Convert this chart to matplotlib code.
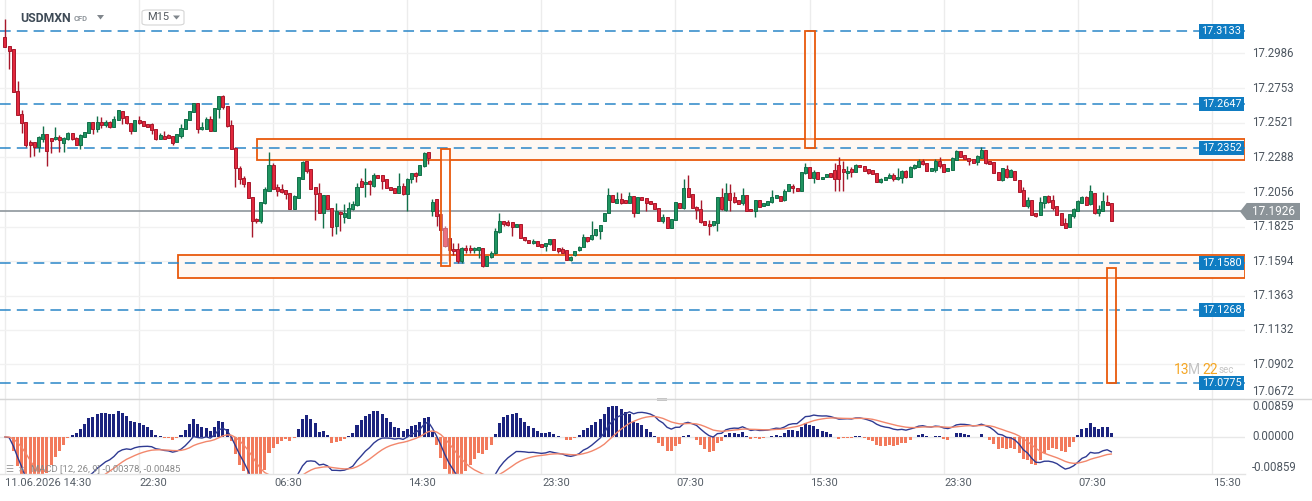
import numpy as np
import matplotlib.pyplot as plt
import matplotlib.transforms as mtransforms
from matplotlib.patches import Rectangle, Polygon, FancyBboxPatch
from matplotlib.lines import Line2D

plt.rcParams['font.family'] = ['Roboto', 'DejaVu Sans']

# USDMXN M15 candles
opens = [
    17.3096, 17.3034, 17.3014, 17.2733, 17.2579, 17.2523, 17.2389, 17.2389, 17.2360, 17.2414,
    17.2443, 17.2418, 17.2409, 17.2423, 17.2383, 17.2409, 17.2450, 17.2418, 17.2374, 17.2427,
    17.2450, 17.2523, 17.2481, 17.2523, 17.2508, 17.2523, 17.2494, 17.2537, 17.2599, 17.2563,
    17.2521, 17.2467, 17.2539, 17.2530, 17.2512, 17.2512, 17.2479, 17.2414, 17.2432, 17.2436,
    17.2432, 17.2389, 17.2432, 17.2476, 17.2537, 17.2590, 17.2650, 17.2476, 17.2479, 17.2543,
    17.2463, 17.2610, 17.2697, 17.2630, 17.2503, 17.2351, 17.2218, 17.2151, 17.2122, 17.2021,
    17.1874, 17.1859, 17.1981, 17.2066, 17.2238, 17.2091, 17.2077, 17.2071, 17.2048, 17.1946,
    17.2015, 17.2142, 17.2262, 17.2209, 17.2088, 17.2048, 17.1919, 17.2035, 17.1952, 17.1832,
    17.1923, 17.1890, 17.1885, 17.1941, 17.1968, 17.2131, 17.2113, 17.2128, 17.2097, 17.2169,
    17.2169, 17.2146, 17.2091, 17.2082, 17.2048, 17.2095, 17.2041, 17.2142, 17.2184, 17.2169,
    17.2231, 17.2322, 17.1930, 17.2008, 17.1910, 17.1814, 17.1747, 17.1676, 17.1676, 17.1591,
    17.1680, 17.1683, 17.1665, 17.1669, 17.1680, 17.1558, 17.1620, 17.1647, 17.1790, 17.1863,
    17.1854, 17.1854, 17.1825, 17.1841, 17.1754, 17.1736, 17.1714, 17.1729, 17.1709, 17.1696,
    17.1709, 17.1740, 17.1680, 17.1674, 17.1665, 17.1598, 17.1636, 17.1665, 17.1691, 17.1758,
    17.1740, 17.1769, 17.1798, 17.1865, 17.1919, 17.2037, 17.1986, 17.2008, 17.2004, 17.1986,
    17.2030, 17.1914, 17.2021, 17.2015, 17.1997, 17.1981, 17.1948, 17.1859, 17.1892, 17.1814,
    17.1870, 17.1986, 17.1948, 17.2082, 17.2044, 17.1955, 17.1941, 17.1865, 17.1843, 17.1836,
    17.1848, 17.2021, 17.1937, 17.2053, 17.2021, 17.2004, 17.1981, 17.2037, 17.1941, 17.1926,
    17.2004, 17.1963, 17.1970, 17.1992, 17.2015, 17.2030, 17.2004, 17.2066, 17.2097, 17.2082,
    17.2066, 17.2182, 17.2227, 17.2149, 17.2189, 17.2142, 17.2155, 17.2182, 17.2204, 17.2238,
    17.2209, 17.2182, 17.2209, 17.2193, 17.2238, 17.2229, 17.2209, 17.2204, 17.2182, 17.2126,
    17.2137, 17.2149, 17.2173, 17.2142, 17.2149, 17.2198, 17.2160, 17.2215, 17.2222, 17.2267,
    17.2249, 17.2200, 17.2207, 17.2265, 17.2242, 17.2200, 17.2207, 17.2271, 17.2331, 17.2305,
    17.2282, 17.2278, 17.2258, 17.2287, 17.2338, 17.2267, 17.2258, 17.2193, 17.2137, 17.2209,
    17.2160, 17.2200, 17.2137, 17.2071, 17.1966, 17.2004, 17.1914, 17.1903, 17.1986, 17.2030,
    17.2004, 17.1963, 17.1914, 17.1848, 17.1821, 17.1897, 17.1932, 17.1986, 17.2021, 17.1975,
    17.2048, 17.1914, 17.1932, 17.1992, 17.1981]
highs = [
    17.3214, 17.3034, 17.3014, 17.2800, 17.2606, 17.2523, 17.2405, 17.2389, 17.2432, 17.2499,
    17.2443, 17.2418, 17.2492, 17.2438, 17.2427, 17.2459, 17.2454, 17.2423, 17.2443, 17.2459,
    17.2523, 17.2523, 17.2566, 17.2557, 17.2539, 17.2534, 17.2566, 17.2603, 17.2599, 17.2563,
    17.2521, 17.2539, 17.2566, 17.2530, 17.2512, 17.2521, 17.2479, 17.2450, 17.2465, 17.2447,
    17.2432, 17.2445, 17.2512, 17.2543, 17.2599, 17.2650, 17.2650, 17.2523, 17.2557, 17.2566,
    17.2617, 17.2697, 17.2706, 17.2630, 17.2539, 17.2360, 17.2231, 17.2164, 17.2122, 17.2021,
    17.1881, 17.1988, 17.2093, 17.2325, 17.2251, 17.2111, 17.2111, 17.2071, 17.2048, 17.2035,
    17.2155, 17.2267, 17.2267, 17.2209, 17.2088, 17.2115, 17.2035, 17.2035, 17.1952, 17.1986,
    17.1930, 17.1977, 17.1992, 17.1997, 17.2115, 17.2153, 17.2215, 17.2137, 17.2182, 17.2169,
    17.2169, 17.2146, 17.2091, 17.2082, 17.2182, 17.2120, 17.2149, 17.2182, 17.2191, 17.2240,
    17.2322, 17.2322, 17.2013, 17.2008, 17.1910, 17.1830, 17.1747, 17.1714, 17.1714, 17.1691,
    17.1703, 17.1703, 17.1691, 17.1685, 17.1680, 17.1629, 17.1658, 17.1814, 17.1914, 17.1863,
    17.1870, 17.1854, 17.1841, 17.1841, 17.1754, 17.1736, 17.1740, 17.1729, 17.1709, 17.1718,
    17.1740, 17.1740, 17.1680, 17.1691, 17.1665, 17.1625, 17.1662, 17.1696, 17.1776, 17.1758,
    17.1863, 17.1807, 17.1836, 17.1919, 17.2086, 17.2037, 17.2055, 17.2048, 17.2004, 17.2055,
    17.2030, 17.2021, 17.2021, 17.2015, 17.1997, 17.1981, 17.1948, 17.1910, 17.1892, 17.1876,
    17.1990, 17.1986, 17.2142, 17.2173, 17.2044, 17.1966, 17.2004, 17.1865, 17.1870, 17.1863,
    17.2021, 17.2086, 17.2120, 17.2113, 17.2059, 17.2004, 17.2082, 17.2037, 17.1941, 17.2004,
    17.2004, 17.1986, 17.1997, 17.2071, 17.2037, 17.2030, 17.2075, 17.2111, 17.2111, 17.2082,
    17.2189, 17.2249, 17.2227, 17.2204, 17.2189, 17.2160, 17.2178, 17.2182, 17.2249, 17.2294,
    17.2267, 17.2231, 17.2222, 17.2244, 17.2238, 17.2229, 17.2209, 17.2204, 17.2182, 17.2149,
    17.2160, 17.2182, 17.2182, 17.2215, 17.2204, 17.2204, 17.2231, 17.2244, 17.2280, 17.2276,
    17.2249, 17.2218, 17.2280, 17.2294, 17.2242, 17.2215, 17.2289, 17.2338, 17.2331, 17.2305,
    17.2282, 17.2278, 17.2305, 17.2356, 17.2338, 17.2267, 17.2258, 17.2193, 17.2215, 17.2238,
    17.2209, 17.2200, 17.2137, 17.2088, 17.2021, 17.2004, 17.1919, 17.2026, 17.2030, 17.2037,
    17.2037, 17.1963, 17.1914, 17.1881, 17.1910, 17.1948, 17.2004, 17.2030, 17.2030, 17.2104,
    17.2048, 17.1970, 17.2055, 17.2037, 17.1981]
lows = [
    17.3025, 17.2878, 17.2724, 17.2570, 17.2450, 17.2356, 17.2294, 17.2300, 17.2327, 17.2394,
    17.2233, 17.2320, 17.2405, 17.2327, 17.2327, 17.2405, 17.2405, 17.2372, 17.2347, 17.2427,
    17.2450, 17.2447, 17.2461, 17.2483, 17.2490, 17.2483, 17.2494, 17.2537, 17.2512, 17.2512,
    17.2443, 17.2467, 17.2510, 17.2501, 17.2494, 17.2447, 17.2405, 17.2414, 17.2414, 17.2416,
    17.2374, 17.2389, 17.2416, 17.2476, 17.2537, 17.2590, 17.2454, 17.2472, 17.2479, 17.2467,
    17.2463, 17.2554, 17.2615, 17.2494, 17.2343, 17.2088, 17.2111, 17.2093, 17.2015, 17.1758,
    17.1852, 17.1848, 17.1977, 17.2066, 17.2079, 17.2033, 17.2048, 17.2008, 17.1946, 17.1941,
    17.2015, 17.2142, 17.2182, 17.2079, 17.1870, 17.1919, 17.1818, 17.1941, 17.1765, 17.1772,
    17.1792, 17.1848, 17.1885, 17.1935, 17.1963, 17.2091, 17.2021, 17.2037, 17.2093, 17.2153,
    17.2075, 17.2082, 17.2071, 17.2048, 17.2048, 17.2037, 17.1932, 17.2115, 17.2126, 17.2169,
    17.2227, 17.2244, 17.1897, 17.1830, 17.1591, 17.1691, 17.1591, 17.1636, 17.1584, 17.1584,
    17.1647, 17.1647, 17.1647, 17.1613, 17.1553, 17.1558, 17.1613, 17.1642, 17.1785, 17.1830,
    17.1830, 17.1763, 17.1821, 17.1747, 17.1725, 17.1714, 17.1709, 17.1698, 17.1687, 17.1658,
    17.1703, 17.1665, 17.1651, 17.1647, 17.1602, 17.1591, 17.1629, 17.1658, 17.1687, 17.1720,
    17.1736, 17.1763, 17.1740, 17.1865, 17.1919, 17.1992, 17.1981, 17.1977, 17.1986, 17.1981,
    17.1892, 17.1914, 17.2004, 17.1930, 17.1975, 17.1941, 17.1859, 17.1852, 17.1814, 17.1814,
    17.1870, 17.1948, 17.1941, 17.2021, 17.1948, 17.1874, 17.1852, 17.1836, 17.1769, 17.1830,
    17.1792, 17.1937, 17.1926, 17.1926, 17.1981, 17.1975, 17.1970, 17.1932, 17.1926, 17.1892,
    17.1959, 17.1963, 17.1970, 17.1986, 17.2015, 17.1999, 17.1999, 17.2066, 17.2048, 17.2066,
    17.2066, 17.2178, 17.2149, 17.2120, 17.2142, 17.2142, 17.2155, 17.2160, 17.2066, 17.2066,
    17.2066, 17.2142, 17.2160, 17.2193, 17.2222, 17.2200, 17.2175, 17.2175, 17.2126, 17.2115,
    17.2137, 17.2149, 17.2133, 17.2137, 17.2115, 17.2149, 17.2155, 17.2211, 17.2222, 17.2238,
    17.2200, 17.2200, 17.2193, 17.2215, 17.2193, 17.2200, 17.2207, 17.2271, 17.2289, 17.2278,
    17.2238, 17.2253, 17.2238, 17.2282, 17.2244, 17.2244, 17.2186, 17.2137, 17.2133, 17.2149,
    17.2155, 17.2137, 17.2059, 17.1966, 17.1952, 17.1903, 17.1892, 17.1903, 17.1948, 17.1981,
    17.1937, 17.1903, 17.1836, 17.1814, 17.1821, 17.1881, 17.1928, 17.1981, 17.1970, 17.1970,
    17.1910, 17.1897, 17.1926, 17.1970, 17.1865]
closes = [
    17.3025, 17.3003, 17.2724, 17.2570, 17.2517, 17.2372, 17.2372, 17.2356, 17.2423, 17.2445,
    17.2329, 17.2401, 17.2423, 17.2405, 17.2416, 17.2450, 17.2409, 17.2374, 17.2436, 17.2459,
    17.2523, 17.2481, 17.2523, 17.2508, 17.2523, 17.2494, 17.2543, 17.2603, 17.2550, 17.2517,
    17.2467, 17.2539, 17.2521, 17.2501, 17.2494, 17.2472, 17.2409, 17.2436, 17.2414, 17.2421,
    17.2383, 17.2445, 17.2483, 17.2543, 17.2599, 17.2650, 17.2476, 17.2490, 17.2543, 17.2467,
    17.2617, 17.2697, 17.2624, 17.2501, 17.2343, 17.2215, 17.2142, 17.2113, 17.2015, 17.1865,
    17.1859, 17.1988, 17.2075, 17.2238, 17.2079, 17.2066, 17.2057, 17.2041, 17.1946, 17.2030,
    17.2155, 17.2258, 17.2200, 17.2079, 17.2041, 17.1919, 17.2035, 17.1941, 17.1825, 17.1930,
    17.1908, 17.1919, 17.1948, 17.1975, 17.2093, 17.2091, 17.2126, 17.2113, 17.2171, 17.2153,
    17.2131, 17.2082, 17.2071, 17.2048, 17.2095, 17.2041, 17.2146, 17.2182, 17.2162, 17.2240,
    17.2316, 17.2282, 17.1990, 17.1897, 17.1803, 17.1696, 17.1665, 17.1658, 17.1591, 17.1680,
    17.1665, 17.1665, 17.1680, 17.1685, 17.1558, 17.1629, 17.1651, 17.1796, 17.1863, 17.1845,
    17.1836, 17.1825, 17.1841, 17.1747, 17.1732, 17.1714, 17.1729, 17.1698, 17.1691, 17.1714,
    17.1740, 17.1665, 17.1658, 17.1651, 17.1602, 17.1618, 17.1662, 17.1687, 17.1758, 17.1725,
    17.1769, 17.1807, 17.1836, 17.1919, 17.2037, 17.1992, 17.2008, 17.1986, 17.1986, 17.2030,
    17.1914, 17.2021, 17.2004, 17.1986, 17.1975, 17.1941, 17.1859, 17.1892, 17.1814, 17.1876,
    17.1990, 17.1948, 17.2082, 17.2021, 17.1948, 17.1937, 17.1854, 17.1836, 17.1830, 17.1863,
    17.2021, 17.1941, 17.2053, 17.2004, 17.1992, 17.1975, 17.2037, 17.1932, 17.1926, 17.2004,
    17.1959, 17.1986, 17.1997, 17.2021, 17.2037, 17.1999, 17.2066, 17.2111, 17.2082, 17.2066,
    17.2189, 17.2227, 17.2149, 17.2189, 17.2142, 17.2160, 17.2178, 17.2160, 17.2142, 17.2142,
    17.2189, 17.2198, 17.2193, 17.2238, 17.2222, 17.2200, 17.2186, 17.2175, 17.2126, 17.2144,
    17.2160, 17.2171, 17.2142, 17.2160, 17.2198, 17.2160, 17.2227, 17.2236, 17.2267, 17.2242,
    17.2200, 17.2218, 17.2265, 17.2231, 17.2193, 17.2215, 17.2282, 17.2331, 17.2294, 17.2278,
    17.2267, 17.2253, 17.2298, 17.2338, 17.2253, 17.2244, 17.2186, 17.2137, 17.2215, 17.2155,
    17.2204, 17.2137, 17.2059, 17.1966, 17.2004, 17.1903, 17.1897, 17.1988, 17.2030, 17.1988,
    17.1948, 17.1903, 17.1836, 17.1814, 17.1910, 17.1943, 17.1997, 17.2026, 17.1970, 17.2064,
    17.1914, 17.1941, 17.1997, 17.1970, 17.1865]

levels = [17.3133, 17.2647, 17.2352, 17.1580, 17.1268, 17.0775]
last_price = 17.1926
price_ticks = [17.2986, 17.2753, 17.2521, 17.2288, 17.2056, 17.1825,
               17.1594, 17.1363, 17.1132, 17.0902, 17.0672]
macd_ticks = [0.00859, 0.0, -0.00859]
time_ticks = [0, 32, 64, 96, 128, 160, 192, 224, 256, 288]
time_labels = ['11.06.2026 14:30', '22:30', '06:30', '14:30', '23:30',
               '07:30', '15:30', '23:30', '07:30', '15:30']

# support / resistance zones (start candle, top, bottom) - run to right edge
zone_start = [60.1, 41.3]
zone_top = [17.2409, 17.1632]
zone_bottom = [17.2271, 17.1480]
# narrow boxes (left, right, top, bottom)
box_left = [104.05, 191.0, 263.0]
box_right = [106.1, 193.2, 265.2]
box_top = [17.2344, 17.3133, 17.1547]
box_bottom = [17.1563, 17.2352, 17.0775]

W, H = 1312, 501
fig = plt.figure(figsize=(W / 100, H / 100), dpi=100)
fig.patch.set_facecolor('white')

x_right = 1245 / W
y_sep = (H - 398.5) / H
y_bot = (H - 474) / H
ax = fig.add_axes([0, y_sep, x_right, 1 - y_sep])
ax2 = fig.add_axes([0, y_bot, x_right, y_sep - y_bot], sharex=ax)

xmin, xmax = -1.19, 295.9
ymin, ymax = 17.0673, 17.3343
ax.set_xlim(xmin, xmax)
ax.set_ylim(ymin, ymax)
ax2.set_ylim(-0.0103, 0.0107)

for a in (ax, ax2):
    a.axis('off')
    for t in time_ticks:
        a.axvline(t, color='#ececec', lw=1, zorder=0)
for p in price_ticks:
    ax.axhline(p, color='#f1f1f1', lw=1, zorder=0)
ax2.axhline(0, color='#e8e8e8', lw=1, zorder=0)

# zones
for s, t, b in zip(zone_start, zone_top, zone_bottom):
    ax.add_patch(Rectangle((s, b), xmax - s, t - b, facecolor='#fff8f3',
                           edgecolor='#e8590c', lw=1.3, zorder=1))

# levels
for p in levels:
    ax.axhline(p, color='#2a86c8', lw=1.1, ls=(0, (7, 4)), zorder=1.5)
ax.axhline(last_price, color='#8e969c', lw=1.2, zorder=1.6)

# candles
o = np.array(opens)
h = np.array(highs)
l = np.array(lows)
c = np.array(closes)
x = np.arange(len(c))
up = c >= o
col_up, edge_up = '#1f9460', '#12704a'
col_dn, edge_dn = '#e2283d', '#a8182b'
ax.vlines(x[up], l[up], h[up], color=edge_up, lw=1, zorder=2)
ax.vlines(x[~up], l[~up], h[~up], color=edge_dn, lw=1, zorder=2)
body = np.where(np.abs(c - o) < 0.0003, 0.0003, c - o)
ax.bar(x[up], body[up], bottom=o[up], width=0.72, color=col_up,
       edgecolor=edge_up, lw=0.7, zorder=3)
ax.bar(x[~up], body[~up], bottom=o[~up], width=0.72, color=col_dn,
       edgecolor=edge_dn, lw=0.7, zorder=3)

# narrow boxes
for bl, br, bt, bb in zip(box_left, box_right, box_top, box_bottom):
    ax.add_patch(Rectangle((bl, bb), br - bl, bt - bb, facecolor=(1, 1, 1, 0.35),
                           edgecolor='#e8590c', lw=1.3, zorder=4))

# MACD (12, 26, 9) from closes, histogram drawn as 2 * (DIF - DEA)
def ema(v, n):
    k = 2 / (n + 1)
    out = [v[0]]
    for val in v[1:]:
        out.append(out[-1] + k * (val - out[-1]))
    return np.array(out)

macd = ema(c, 12) - ema(c, 26)
signal = ema(macd, 9)
hist = 2 * (macd - signal)
ax2.bar(x, hist, width=0.72, color=np.where(hist >= 0, '#1b237e', '#f27a5c'), zorder=2)
ax2.plot(x, macd, color='#2f3a92', lw=1, zorder=3)
ax2.plot(x, signal, color='#f2876c', lw=1, zorder=3)

# right axis labels
tr = mtransforms.blended_transform_factory(ax.transAxes, ax.transData)
tr2 = mtransforms.blended_transform_factory(ax2.transAxes, ax2.transData)
lab_x = 1252 / 1245
for p in price_ticks:
    yy = max(p, ymin + 0.0045)
    ax.text(lab_x, yy, f'{p:.4f}', transform=tr, ha='left', va='center',
            fontsize=8.3, color='#4d5660', clip_on=False)
for m in macd_ticks:
    ax2.text(lab_x, m, f'{m:.5f}', transform=tr2, ha='left', va='center',
             fontsize=8.3, color='#4d5660', clip_on=False)

# countdown text, just above the lowest level tag
for txt, px, colr, fs in [('13', 1174, '#f5a623', 10), ('M', 1188, '#c4c4c4', 10),
                          ('22', 1202, '#f5a623', 10), ('sec', 1219, '#c4c4c4', 7)]:
    ax.text(px / W, 1 - 370 / H, txt, transform=fig.transFigure, ha='left',
            va='center', fontsize=fs, color=colr, zorder=5)

# level tags
bw = 45 / 1245
bx = 1199 / 1245
for p in levels:
    ax.add_patch(Rectangle((bx, p - 0.0048), bw, 0.0096, transform=tr,
                           facecolor='#0f7cc2', edgecolor='none', zorder=6, clip_on=False))
    ax.text(bx + bw / 2, p, f'{p:.4f}', transform=tr, ha='center', va='center',
            fontsize=7.8, color='white', zorder=7, clip_on=False)

# current price tag
hh = 0.0057
tag = [(1240 / 1245, last_price), (1246.7 / 1245, last_price + hh),
       (1300 / 1245, last_price + hh), (1300 / 1245, last_price - hh),
       (1246.7 / 1245, last_price - hh)]
ax.add_patch(Polygon(tag, closed=True, transform=tr, facecolor='#8b9398',
                     edgecolor='none', zorder=6, clip_on=False))
ax.text(lab_x, last_price, f'{last_price:.4f}', transform=tr, ha='left', va='center',
        fontsize=8.5, color='white', zorder=7, clip_on=False)

# time labels
trx = mtransforms.blended_transform_factory(ax2.transData, ax2.transAxes)
for t, lab in zip(time_ticks, time_labels):
    ax2.text(t + 0.2 if t else -0.1, -0.12, lab, transform=trx, ha='left', va='center',
             fontsize=8, color='#555d66', clip_on=False)

# pane separators
fig.add_artist(Line2D([0, 1], [y_sep, y_sep], color='#d6d6d6', lw=1))
fig.add_artist(Line2D([0, x_right], [y_bot, y_bot], color='#e3e3e3', lw=1))
fig.add_artist(Rectangle((657 / W, 1 - 401 / H), 10 / W, 3 / H, facecolor='#c3c3c3',
                         edgecolor='none', transform=fig.transFigure))

# MACD legend
fig.text(5 / W, 1 - 469 / H, '☰', fontsize=6.5, color='#9a9a9a', va='center',
         family=['DejaVu Sans'])
fig.text(18 / W, 1 - 469 / H, '✕', fontsize=6, color='#9a9a9a', va='center',
         family=['DejaVu Sans'])
fig.text(31 / W, 1 - 469 / H, 'MACD [12, 26, 9] -0.00378, -0.00485', fontsize=6.8,
         color='#8a8a8a', va='center')

# header
fig.text(20 / W, 1 - 18.5 / H, 'USDMXN', fontsize=8.8, fontweight='bold',
         color='#3e4a56', va='center')
fig.text(74 / W, 1 - 19 / H, 'CFD', fontsize=5.4, fontweight='bold',
         color='#8f959b', va='center')
fig.add_artist(Polygon([(97 / W, 1 - 15 / H), (104 / W, 1 - 15 / H), (100.5 / W, 1 - 19.5 / H)],
                       closed=True, facecolor='#80868c', edgecolor='none',
                       transform=fig.transFigure))
fig.add_artist(FancyBboxPatch((142 / W, 1 - 25 / H), 42 / W, 15 / H,
                              boxstyle='round,pad=0,rounding_size=0.004',
                              facecolor='white', edgecolor='#d5d5d5', lw=0.8,
                              transform=fig.transFigure))
fig.text(147 / W, 1 - 17.5 / H, 'M15', fontsize=8, color='#555b61', va='center')
fig.add_artist(Polygon([(173 / W, 1 - 15.5 / H), (180 / W, 1 - 15.5 / H), (176.5 / W, 1 - 19.5 / H)],
                       closed=True, facecolor='#80868c', edgecolor='none',
                       transform=fig.transFigure))

fig.savefig('out.png', dpi=100, facecolor='white')
